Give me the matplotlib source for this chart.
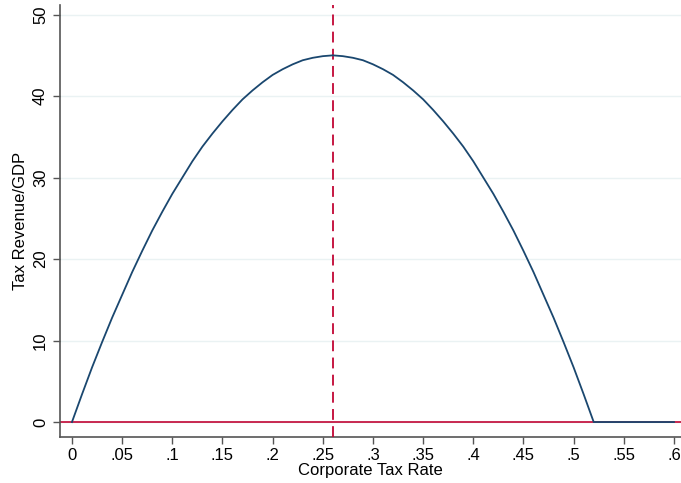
import numpy as np
import matplotlib.pyplot as plt

plt.rcParams['font.family'] = ['Liberation Sans', 'DejaVu Sans']

# values
tax_rate = [0.00, 0.01, 0.02, 0.03, 0.04, 0.05, 0.06, 0.07, 0.08, 0.09, 0.10, 0.11, 0.12, 0.13,
            0.14, 0.15, 0.16, 0.17, 0.18, 0.19, 0.20, 0.21, 0.22, 0.23, 0.24, 0.25, 0.26,
            0.27, 0.28, 0.29, 0.30, 0.31, 0.32, 0.33, 0.34, 0.35, 0.36, 0.37, 0.38, 0.39,
            0.40, 0.41, 0.42, 0.43, 0.44, 0.45, 0.46, 0.47, 0.48, 0.49, 0.50, 0.51, 0.52,
            0.54, 0.56, 0.58, 0.60]
revenue = [0.0, 3.4, 6.7, 9.8, 12.8, 15.6, 18.4, 21.0, 23.5, 25.8, 28.0, 30.0, 32.0, 33.8,
           35.4, 36.9, 38.3, 39.6, 40.7, 41.7, 42.6, 43.3, 43.9, 44.4, 44.7, 44.9, 45.0,
           44.9, 44.7, 44.4, 43.9, 43.3, 42.6, 41.7, 40.7, 39.6, 38.3, 36.9, 35.4, 33.8,
           32.0, 30.0, 28.0, 25.8, 23.5, 21.0, 18.4, 15.6, 12.8, 9.8, 6.7, 3.4, 0.0,
           0.0, 0.0, 0.0, 0.0]
peak_rate = 0.26

xticks = [0, .05, .1, .15, .2, .25, .3, .35, .4, .45, .5, .55, .6]
xticklabels = ['0', '.05', '.1', '.15', '.2', '.25', '.3', '.35', '.4', '.45', '.5', '.55', '.6']
yticks = [0, 10, 20, 30, 40, 50]

fig = plt.figure(figsize=(6.81, 4.83), dpi=100)
ax = fig.add_axes([0.088, 0.095, 0.912, 0.895])

for y in yticks:
    ax.axhline(y, color='#eaf2f3', lw=1, zorder=0)
ax.axhline(0, color='#c10534', lw=1.2, zorder=2)
ax.axvline(peak_rate, color='#c10534', lw=1.3, ls=(0, (6, 3.5)), zorder=3)
ax.plot(tax_rate, revenue, color='#1a476f', lw=1.3, zorder=4)

ax.set_xlim(-0.012, 0.607)
ax.set_ylim(-1.85, 51.2)
ax.set_xticks(xticks)
ax.set_xticklabels(xticklabels)
ax.set_yticks(yticks)
ax.set_yticklabels([str(v) for v in yticks], rotation=90, va='center')

for s in ['top', 'right']:
    ax.spines[s].set_visible(False)
for s in ['left', 'bottom']:
    ax.spines[s].set_color('#555555')
    ax.spines[s].set_linewidth(1.2)
ax.tick_params(colors='#555555', labelcolor='black', labelsize=12, length=5, width=1)
ax.tick_params(axis='x', pad=2.5)

ax.set_xlabel('Corporate Tax Rate', fontsize=12, labelpad=0)
ax.set_ylabel('Tax Revenue/GDP', fontsize=12, labelpad=4)

fig.savefig('out.png', dpi=100)
